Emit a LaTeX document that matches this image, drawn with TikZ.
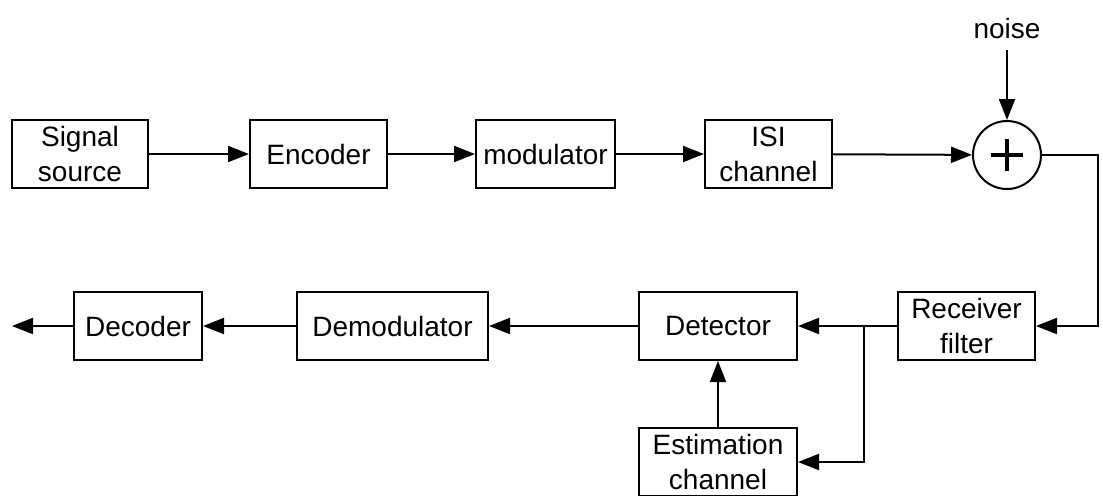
\documentclass[tikz,border=0pt]{standalone}
\usepackage{fontspec}
\setmainfont{Liberation Sans}
\usetikzlibrary{arrows.meta,positioning,calc}

\begin{document}
\begin{tikzpicture}[x=0.5pt,y=-0.5pt,
  line width=1pt,
  font=\fontsize{14}{17.5}\selectfont,
  blk/.style={draw,rectangle,minimum height=34pt,inner sep=0pt,align=center},
  sumnode/.style={draw,circle,minimum size=34pt,inner sep=0pt},
  arr/.style={-{Triangle[length=10.5pt,width=8pt]}}
]
\useasboundingbox (0,0) rectangle (1103,495);

% upper chain
\node[blk,minimum width=68pt] (src) at (80,154) {Signal\\source};
\node[blk,minimum width=68.5pt] (enc) at (318.5,154) {Encoder};
\node[blk,minimum width=69.5pt] (mod) at (545.5,154) {modulator};
\node[blk,minimum width=63.5pt] (isi) at (768.5,154) {ISI\\channel};
\node[sumnode] (sum) at (1007,155) {};
\draw[line width=1.6pt] ([xshift=-8pt]sum.center) -- ([xshift=8pt]sum.center);
\draw[line width=1.6pt] ([yshift=-8pt]sum.center) -- ([yshift=8pt]sum.center);
\node (noise) at (1007,28) {noise};
\coordinate (ntop) at (1007,50);

% lower chain
\node[blk,minimum width=68.5pt] (rcv) at (966.5,326) {Receiver\\filter};
\node[blk,minimum width=79pt] (det) at (718,326) {Detector};
\node[blk,minimum width=79pt] (est) at (718,462) {Estimation\\channel};
\node[blk,minimum width=95.5pt] (dem) at (392.5,326) {Demodulator};
\node[blk,minimum width=64pt] (dec) at (138,326) {Decoder};
\coordinate (out) at (12,326);
\coordinate (junc) at (864,326);
\coordinate (cr1) at (1098,155);
\coordinate (cr2) at (1098,326);

% connectors
\draw[arr] (src) -- (enc);
\draw[arr] (enc) -- (mod);
\draw[arr] (mod) -- (isi);
\draw[arr] (isi) -- (sum);
\draw[arr] (ntop) -- (sum);
\draw[arr] (sum.east) -- (cr1) -- (cr2) -- (rcv.east);
\draw[arr] (rcv) -- (det);
\draw[arr] (junc) |- (est.east);
\draw[arr] (est) -- (det);
\draw[arr] (det) -- (dem);
\draw[arr] (dem) -- (dec);
\draw[arr] (dec) -- (out);
\end{tikzpicture}
\end{document}
